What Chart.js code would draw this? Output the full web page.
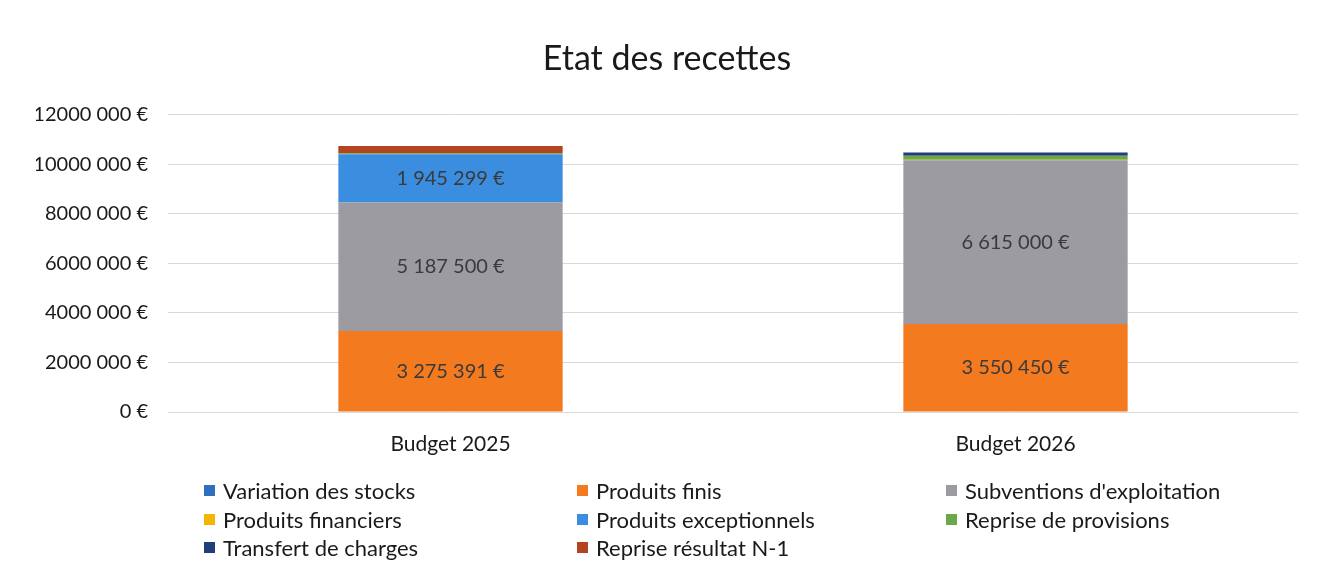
<!DOCTYPE html>
<html>
<head>
<meta charset="utf-8">
<script src="https://cdn.jsdelivr.net/npm/chart.js@4.4.1/dist/chart.umd.min.js"></script>
<style>
  html, body { margin: 0; padding: 0; background: #fff; }
  .wrap { position: relative; width: 1319px; height: 571px; font-family: Lato, "Open Sans", sans-serif; }
  canvas { position: absolute; left: 0; top: 0; }
  .legend { position: absolute; left: 0; top: 0; width: 1319px; height: 571px; pointer-events: none; }
  .legend-item { position: absolute; display: flex; align-items: center; font-size: 22px; color: #1a1a1a; white-space: nowrap; }
  .legend-item span.box { display: inline-block; width: 11px; height: 11px; margin-right: 8px; }
</style>
</head>
<body>
<div class="wrap">
  <canvas id="chart" width="1319" height="571"></canvas>
  <div class="legend" id="legend"></div>
</div>
<script>
// categories et séries
const categories = ['Budget 2025', 'Budget 2026'];
const seriesNames = [
  'Variation des stocks', 'Produits finis', "Subventions d'exploitation",
  'Produits financiers', 'Produits exceptionnels', 'Reprise de provisions',
  'Transfert de charges', 'Reprise résultat N-1'
];
const variationStocks = [0, 0];
const produitsFinis = [3275391, 3550450];
const subventions = [5187500, 6615000];
const produitsFinanciers = [0, 20000];
const produitsExceptionnels = [1945299, 0];
const repriseProvisions = [40000, 160000];
const transfertCharges = [0, 130000];
const repriseResultat = [290000, 0];
const yTicks = [0, 2000000, 4000000, 6000000, 8000000, 10000000, 12000000];

const seriesValues = [variationStocks, produitsFinis, subventions, produitsFinanciers,
  produitsExceptionnels, repriseProvisions, transfertCharges, repriseResultat];
const colors = ['#2f6fc0', '#f47a20', '#9c9ba1', '#f5b400', '#3b8de0', '#6aa84a', '#1f3f7a', '#b4431f'];

// format des montants : "1 945 299 €"
function euros(v) {
  return Math.round(v).toString().replace(/\B(?=(\d{3})+(?!\d))/g, ' ') + ' €';
}
// format de l'axe : "12000 000 €"
function axisEuros(v) {
  if (v === 0) return '0 €';
  return Math.floor(v / 1000) + ' ' + String(v % 1000).padStart(3, '0') + ' €';
}

// étiquettes de données au centre des segments
const dataLabels = {
  id: 'dataLabels',
  afterDatasetsDraw(chart) {
    const ctx = chart.ctx;
    ctx.save();
    ctx.font = '20px Lato, sans-serif';
    ctx.fillStyle = '#3a3a3a';
    ctx.textAlign = 'center';
    ctx.textBaseline = 'middle';
    chart.data.datasets.forEach((ds, i) => {
      chart.getDatasetMeta(i).data.forEach((bar, j) => {
        if (ds.data[j] < 1000000) return;
        const mid = (bar.y + bar.base) / 2;
        ctx.fillText(euros(ds.data[j]), bar.x, mid);
      });
    });
    ctx.restore();
  }
};

const chart = new Chart(document.getElementById('chart'), {
  type: 'bar',
  data: {
    labels: categories,
    datasets: seriesNames.map((name, i) => ({
      label: name,
      data: seriesValues[i],
      backgroundColor: colors[i],
      borderWidth: 0,
      barPercentage: 0.397,
      categoryPercentage: 1
    }))
  },
  options: {
    responsive: false,
    animation: false,
    layout: { padding: { left: 36, right: 21, top: 0, bottom: 0 } },
    plugins: {
      legend: { display: false },
      tooltip: { enabled: false },
      title: {
        display: true,
        text: 'Etat des recettes',
        color: '#1a1a1a',
        font: { family: 'Lato, sans-serif', size: 34, weight: 'normal' },
        padding: { top: 39, bottom: 35 }
      }
    },
    scales: {
      x: {
        stacked: true,
        grid: { display: false, drawTicks: false },
        border: { display: false },
        ticks: { color: '#1a1a1a', font: { family: 'Lato, sans-serif', size: 21 }, padding: 20 },
        afterFit(scale) { scale.height = 159; }
      },
      y: {
        stacked: true,
        min: 0,
        max: 12000000,
        afterBuildTicks(scale) { scale.ticks = yTicks.map(v => ({ value: v })); },
        grid: { color: '#d9d9d9', lineWidth: 1, drawTicks: false },
        border: { display: false },
        ticks: {
          color: '#1a1a1a',
          font: { family: 'Lato, sans-serif', size: 20 },
          padding: 20,
          callback: v => axisEuros(v)
        },
        afterFit(scale) { scale.width = 132; }
      }
    }
  },
  plugins: [dataLabels]
});

// légende en trois colonnes, comme dans l'original
const legendPos = [
  [204, 491], [577, 491], [946, 491],
  [204, 520], [577, 520], [946, 520],
  [204, 548], [577, 548]
];
const legendEl = document.getElementById('legend');
seriesNames.forEach((name, i) => {
  const item = document.createElement('div');
  item.className = 'legend-item';
  item.style.left = legendPos[i][0] + 'px';
  item.style.top = (legendPos[i][1] - 14) + 'px';
  item.innerHTML = `<span class="box" style="background:${colors[i]}"></span>${name}`;
  legendEl.appendChild(item);
});
</script>
</body>
</html>
